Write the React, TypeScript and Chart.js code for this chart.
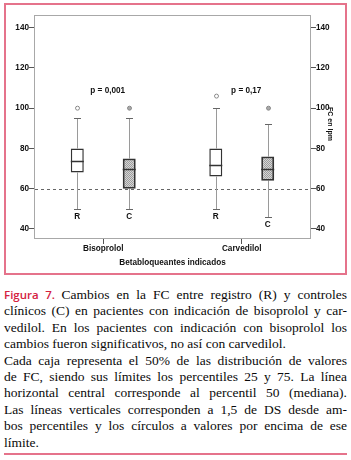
import React, { useEffect, useLayoutEffect, useRef } from 'react';
import { Chart, registerables } from 'chart.js';

Chart.register(...registerables);

// ---- data ----
const categories = ['Bisoprolol', 'Carvedilol'];
const seriesLabels = ['R', 'C'];
const rMin = [50, 50];
const rQ1 = [68, 66];
const rMedian = [74, 72];
const rQ3 = [80, 80];
const rMax = [95, 100];
const rOutliers = [[100], [106]];
const cMin = [50, 46];
const cQ1 = [60, 64];
const cMedian = [70, 70];
const cQ3 = [75, 76];
const cMax = [95, 92];
const cOutliers = [[100], [100]];
const pValues = ['p = 0,001', 'p = 0,17'];
const pValueLevel = 108.5;
const yTicks = [40, 60, 80, 100, 120, 140];
const referenceLine = 60;
const yMin = 35;
const yMax = 146.3;

const xTitle = 'Betabloqueantes indicados';
const yTitle = 'FC en lpm';

const captionLines = [
  { text: 'Cambios en la FC entre registro (R) y controles', justify: true, prefix: true },
  { text: 'clínicos (C) en pacientes con indicación de bisoprolol y car-', justify: true },
  { text: 'vedilol. En los pacientes con indicación con bisoprolol los', justify: true },
  { text: 'cambios fueron significativos, no así con carvedilol.', justify: false },
  { text: 'Cada caja representa el 50% de las distribución de valores', justify: true },
  { text: 'de FC, siendo sus límites los percentiles 25 y 75. La línea', justify: true },
  { text: 'horizontal central corresponde al percentil 50 (mediana).', justify: true },
  { text: 'Las líneas verticales corresponden a 1,5 de DS desde am-', justify: true },
  { text: 'bos percentiles y los círculos a valores por encima de ese', justify: true },
  { text: 'límite.', justify: false },
];

const stats = [
  { min: rMin, q1: rQ1, med: rMedian, q3: rQ3, max: rMax, out: rOutliers },
  { min: cMin, q1: cQ1, med: cMedian, q3: cQ3, max: cMax, out: cOutliers },
];

const PINK = '#e5738b';
const TEXT = '#111111';
const FONT = { family: '"Liberation Sans", Arial, sans-serif', size: 8.2, weight: 'bold' as const };
const CANVAS_FONT = 'bold 8.2px "Liberation Sans", Arial, sans-serif';

function makePattern(): CanvasPattern | string {
  const c = document.createElement('canvas');
  c.width = 2;
  c.height = 2;
  const g = c.getContext('2d');
  if (!g) return '#b8b8b8';
  g.fillStyle = '#d6d6d6';
  g.fillRect(0, 0, 2, 2);
  g.fillStyle = '#9c9c9c';
  g.fillRect(0, 0, 1, 1);
  g.fillRect(1, 1, 1, 1);
  return g.createPattern(c, 'repeat') || '#b8b8b8';
}

const boxPlugin = {
  id: 'boxExtras',
  beforeDatasetsDraw(chart: any) {
    const { ctx, chartArea: a, scales } = chart;
    const y = scales.y;
    ctx.save();
    // frame
    ctx.strokeStyle = '#a8a8a8';
    ctx.lineWidth = 1;
    ctx.strokeRect(a.left + 0.5, a.top + 0.5, a.right - a.left - 1, a.bottom - a.top - 1);
    // reference line
    const yr = Math.round(y.getPixelForValue(referenceLine)) + 0.5;
    ctx.setLineDash([3, 3]);
    ctx.strokeStyle = '#666';
    ctx.beginPath();
    ctx.moveTo(a.left + 1, yr);
    ctx.lineTo(a.right - 1, yr);
    ctx.stroke();
    ctx.setLineDash([]);
    // whiskers
    stats.forEach((s, di) => {
      const meta = chart.getDatasetMeta(di);
      meta.data.forEach((bar: any, i: number) => {
        const x = Math.round(bar.x) + 0.5;
        const pMax = Math.round(y.getPixelForValue(s.max[i])) + 0.5;
        const pMin = Math.round(y.getPixelForValue(s.min[i])) + 0.5;
        const pQ1 = y.getPixelForValue(s.q1[i]);
        const pQ3 = y.getPixelForValue(s.q3[i]);
        ctx.strokeStyle = '#9a9a9a';
        ctx.lineWidth = 1;
        ctx.beginPath();
        ctx.moveTo(x, pMax);
        ctx.lineTo(x, pQ3);
        ctx.moveTo(x, pQ1);
        ctx.lineTo(x, pMin);
        ctx.stroke();
        ctx.strokeStyle = '#666';
        ctx.beginPath();
        ctx.moveTo(x - 3.5, pMax);
        ctx.lineTo(x + 3.5, pMax);
        ctx.moveTo(x - 3.5, pMin);
        ctx.lineTo(x + 3.5, pMin);
        ctx.stroke();
      });
    });
    ctx.restore();
  },
  afterDatasetsDraw(chart: any) {
    const { ctx, chartArea: a, scales } = chart;
    const y = scales.y;
    const xs = scales.x;
    ctx.save();
    stats.forEach((s, di) => {
      const meta = chart.getDatasetMeta(di);
      meta.data.forEach((bar: any, i: number) => {
        const x = bar.x;
        const half = bar.width / 2;
        const pm = Math.round(y.getPixelForValue(s.med[i])) + 0.5;
        ctx.strokeStyle = '#333';
        ctx.lineWidth = 1.5;
        ctx.beginPath();
        ctx.moveTo(x - half, pm);
        ctx.lineTo(x + half, pm);
        ctx.stroke();
        // outliers
        s.out[i].forEach((o: number) => {
          const py = y.getPixelForValue(o);
          ctx.beginPath();
          ctx.arc(Math.round(x) + 0.5, py, 2, 0, Math.PI * 2);
          ctx.lineWidth = 1;
          ctx.fillStyle = di === 0 ? '#fff' : '#aaa';
          ctx.fill();
          ctx.strokeStyle = '#8a8a8a';
          ctx.stroke();
        });
        // series labels
        ctx.fillStyle = TEXT;
        ctx.font = CANVAS_FONT;
        ctx.textAlign = 'center';
        ctx.textBaseline = 'middle';
        ctx.fillText(seriesLabels[di], x, y.getPixelForValue(s.min[i]) + 7.5);
      });
    });
    // p values
    ctx.fillStyle = TEXT;
    ctx.font = CANVAS_FONT;
    ctx.textAlign = 'center';
    ctx.textBaseline = 'middle';
    pValues.forEach((p, i) => {
      ctx.fillText(p, xs.getPixelForValue(i) + 4.5, y.getPixelForValue(pValueLevel));
    });
    // right axis title
    ctx.save();
    ctx.translate(a.right + 18.5, (a.top + a.bottom) / 2 - 3);
    ctx.rotate(Math.PI / 2);
    ctx.font = 'bold 7px "Liberation Sans", Arial, sans-serif';
    ctx.fillText(yTitle, 0, 0);
    ctx.restore();
    ctx.restore();
  },
};

function ChartBox() {
  const ref = useRef<HTMLCanvasElement | null>(null);
  useEffect(() => {
    if (!ref.current) return;
    const pattern = makePattern();
    const yAxisCommon = {
      type: 'linear' as const,
      min: yMin,
      max: yMax,
      afterBuildTicks: (s: any) => {
        s.ticks = yTicks.map((v) => ({ value: v }));
      },
      grid: { drawOnChartArea: false, drawTicks: true, tickLength: 5, color: '#555' },
      border: { display: false },
      ticks: { font: FONT, color: TEXT, padding: 0 },
    };
    const chart = new Chart(ref.current, {
      type: 'bar',
      data: {
        labels: categories,
        datasets: [
          {
            label: seriesLabels[0],
            data: categories.map((_, i) => [rQ1[i], rQ3[i]]) as any,
            backgroundColor: '#ffffff',
            borderColor: '#333333',
            borderWidth: 1.5,
            borderSkipped: false,
            categoryPercentage: 0.75,
            barPercentage: 0.25,
          },
          {
            label: seriesLabels[1],
            data: categories.map((_, i) => [cQ1[i], cQ3[i]]) as any,
            backgroundColor: pattern as any,
            borderColor: '#333333',
            borderWidth: 2,
            borderSkipped: false,
            categoryPercentage: 0.75,
            barPercentage: 0.25,
          },
        ],
      },
      options: {
        animation: false,
        responsive: false,
        layout: { padding: { top: 15, left: 0, right: 0, bottom: 0 } },
        plugins: { legend: { display: false }, tooltip: { enabled: false } },
        scales: {
          x: {
            type: 'category',
            grid: { offset: false, drawOnChartArea: false, drawTicks: true, tickLength: 5, color: '#555' },
            border: { display: false },
            ticks: { font: FONT, color: TEXT, padding: 0, maxRotation: 0 },
            title: { display: true, text: xTitle, font: FONT, color: TEXT, padding: { top: 0, bottom: 7 } },
            afterFit: (s: any) => {
              s.height = 36;
            },
          },
          y: {
            ...yAxisCommon,
            position: 'left',
            afterFit: (s: any) => {
              s.width = 34;
            },
          },
          y2: {
            ...yAxisCommon,
            position: 'right',
            afterFit: (s: any) => {
              s.width = 40;
            },
          },
        },
      } as any,
      plugins: [boxPlugin],
    });
    return () => chart.destroy();
  }, []);
  return (
    <canvas
      ref={ref}
      width={351}
      height={275}
      style={{ position: 'absolute', left: 0, top: 0, width: 351, height: 275 }}
    />
  );
}

function Caption() {
  const lineRefs = useRef<(HTMLSpanElement | null)[]>([]);
  useLayoutEffect(() => {
    const justify = () => {
      captionLines.forEach((l, i) => {
        const el = lineRefs.current[i];
        if (!el) return;
        el.style.wordSpacing = '0px';
        if (!l.justify) return;
        const w = el.getBoundingClientRect().width;
        const full = (l.prefix ? 'Figura 7. ' : '') + l.text;
        const n = (full.match(/ /g) || []).length;
        if (n > 0) el.style.wordSpacing = (343 - w) / n + 'px';
      });
    };
    justify();
    if ((document as any).fonts && (document as any).fonts.ready) {
      (document as any).fonts.ready.then(justify);
    }
  }, []);
  return (
    <div
      style={{
        position: 'absolute',
        left: 4,
        top: 287,
        width: 343,
        fontFamily: '"Liberation Serif", "Times New Roman", serif',
        fontSize: 13.5,
        lineHeight: '16.4px',
        color: '#0a0a0a',
      }}
    >
      {captionLines.map((l, i) => (
        <div key={i} style={{ whiteSpace: 'nowrap', height: 16.4 }}>
          <span ref={(e) => { lineRefs.current[i] = e; }}>
            {l.prefix ? (
              <span
                style={{
                  fontFamily: '"Open Sans", sans-serif',
                  fontSize: 11.5,
                  fontWeight: 600,
                  color: '#d4213f',
                }}
              >
                Figura 7.{' '}
              </span>
            ) : null}
            {l.text}
          </span>
        </div>
      ))}
    </div>
  );
}

export default function App() {
  return (
    <div
      style={{
        position: 'absolute',
        left: 0,
        top: 0,
        width: 351,
        height: 460,
        background: '#fff',
        overflow: 'hidden',
      }}
    >
      <div
        style={{
          position: 'absolute',
          left: 4,
          top: 3,
          width: 343,
          height: 272,
          border: `2px solid ${PINK}`,
          boxSizing: 'border-box',
        }}
      />
      <ChartBox />
      <Caption />
      <div style={{ position: 'absolute', left: 4, top: 453, width: 343, height: 2, background: PINK }} />
    </div>
  );
}
